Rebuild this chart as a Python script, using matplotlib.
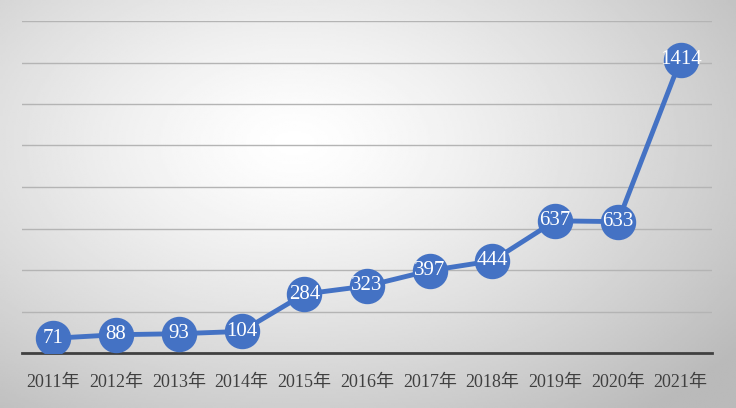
import numpy as np
import matplotlib.pyplot as plt

plt.rcParams['font.family'] = ['Liberation Serif', 'Noto Sans CJK SC']

years = ["2011年", "2012年", "2013年", "2014年", "2015年", "2016年",
         "2017年", "2018年", "2019年", "2020年", "2021年"]
values = [71, 88, 93, 104, 284, 323, 397, 444, 637, 633, 1414]

fig = plt.figure(figsize=(7.36, 4.08), dpi=100)

# radial gray background
bg = fig.add_axes([0, 0, 1, 1])
gx, gy = np.meshgrid(np.linspace(0, 1, 400), np.linspace(0, 1, 220))
r = np.sqrt(((gx - 0.40) / 0.75) ** 2 + ((gy - 0.35) / 0.85) ** 2)
shade = 1.0 - 0.27 * np.clip(r, 0, 1) ** 1.3
bg.imshow(shade, cmap="gray", vmin=0, vmax=1, extent=[0, 1, 0, 1],
          aspect="auto", origin="upper")
bg.axis("off")

ax = fig.add_axes([22 / 736, 55 / 408, 690 / 736, 332 / 408])
ax.patch.set_alpha(0)
x = np.arange(len(years))

ax.plot(x, values, color="#4472C4", linewidth=3.5, zorder=3,
        marker="o", markersize=24.5, markerfacecolor="#4472C4",
        markeredgecolor="#4472C4")
for xi, v in zip(x, values):
    ax.text(xi, v, str(v), color="white", fontsize=15,
            ha="center", va="center", zorder=4)

ax.set_xlim(-0.5, len(years) - 0.5)
ax.set_ylim(0, 1600)
ax.set_yticks(np.arange(0, 1601, 200))
ax.yaxis.grid(True, color="#b4b4b4", linewidth=1)
ax.set_axisbelow(True)
ax.tick_params(axis="y", left=False, labelleft=False)
ax.set_xticks(x)
ax.set_xticklabels(years, fontsize=13, color="#404040")
ax.tick_params(axis="x", length=0, pad=15)
for s in ["top", "right", "left"]:
    ax.spines[s].set_visible(False)
ax.spines["bottom"].set_color("#404040")
ax.spines["bottom"].set_linewidth(2)

fig.savefig("out.png", dpi=100)
